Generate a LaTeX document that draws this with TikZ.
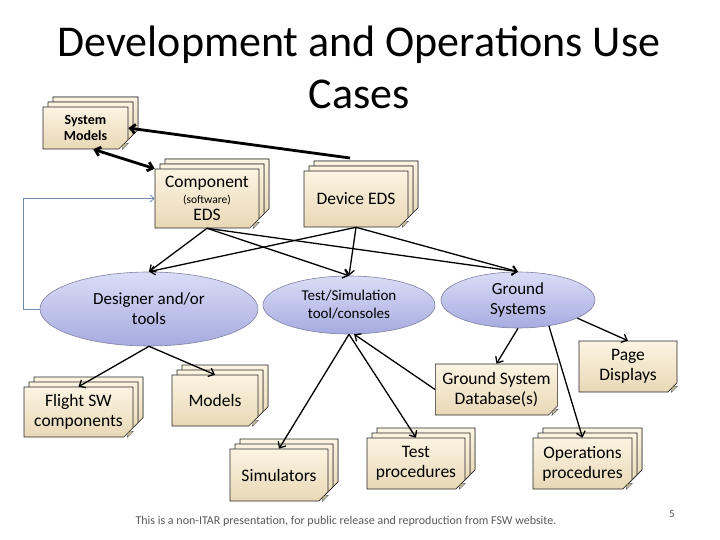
\documentclass[tikz,border=0pt]{standalone}
\usepackage{fontspec}
\setmainfont{Carlito}
\usepackage{tikz}
\usetikzlibrary{positioning,calc}
\usetikzlibrary{arrows.meta,shapes.geometric,shapes.misc,shadows}
\definecolor{NoteTop}{RGB}{252,244,226}
\definecolor{NoteBot}{RGB}{232,216,182}
\definecolor{FoldTan}{RGB}{214,196,158}
\definecolor{EllTop}{RGB}{218,221,246}
\definecolor{EllMid}{RGB}{196,200,239}
\definecolor{EllBot}{RGB}{166,171,224}
\definecolor{EllLine}{RGB}{128,130,160}
\definecolor{FeedBlue}{RGB}{112,140,170}
\definecolor{FootGray}{RGB}{90,90,90}
\tikzset{
  note/.style={chamfered rectangle,chamfered rectangle corners=south east,
    chamfered rectangle xsep=6pt,draw=black!85,line width=0.6pt,
    top color=NoteTop,bottom color=NoteBot,inner sep=1pt,align=center,
    font=\fontsize{17.5}{20}\selectfont},
  layer/.style={draw=black!85,line width=0.6pt,top color=NoteTop,bottom color=NoteBot},
  notestack/.style={note,
    copy shadow={shadow xshift=10pt,shadow yshift=10pt,layer},
    copy shadow={shadow xshift=5pt,shadow yshift=5pt,layer}},
  usecase/.style={ellipse,draw=EllLine,line width=0.6pt,top color=EllTop,
    middle color=EllMid,bottom color=EllBot,inner sep=0pt,align=center,
    font=\fontsize{17}{20}\selectfont},
  foldflap/.style={fill=FoldTan,draw=black!70,line width=0.4pt},
  link/.style={draw=black,line width=1.3pt,-{Straight Barb[length=5pt,width=9pt]}},
  heavy/.style={draw=black,line width=2.8pt},
  feed/.style={draw=FeedBlue,line width=0.8pt,-{Straight Barb[length=4pt,width=7pt]}},
}
% folded corner of a note
\newcommand\notefold[1]{%
  \filldraw[foldflap] ($(#1.east|-#1.south)+(-6pt,0pt)$) -- ++(1pt,5pt)
    -- ($(#1.east|-#1.south)+(0pt,6pt)$) -- cycle;}

\begin{document}
\begin{tikzpicture}[x=1pt,y=-1pt]
\useasboundingbox (0,0) rectangle (720,540);
\fill[white] (0,0) rectangle (720,540);

% title
\node[font=\fontsize{44}{52}\selectfont,align=center] (title) at (359,67)
  {Development and Operations Use\\Cases};

% documents
\node[notestack,minimum width=85pt,minimum height=42pt,
  font=\fontsize{14}{16}\selectfont\bfseries] (sysmod) at (85.5,128) {System\\Models};
\node[notestack,minimum width=104pt,minimum height=59pt] (comp) at (207,198.5)
  {Component\\[-4pt]{\fontsize{11.5}{13}\selectfont(software)}\\[-3pt]EDS};
\node[notestack,minimum width=104pt,minimum height=56pt] (device) at (356,199) {Device EDS};
\node[notestack,minimum width=109pt,minimum height=50pt] (flight) at (78.5,412)
  {Flight SW\\components};
\node[notestack,minimum width=86pt,minimum height=51pt] (models) at (215,400.5) {Models};
\node[notestack,minimum width=98pt,minimum height=52pt] (simul) at (279,475) {Simulators};
\node[notestack,minimum width=98pt,minimum height=51pt] (testproc) at (416,463.5)
  {Test\\procedures};
\node[notestack,minimum width=99pt,minimum height=51pt] (ops) at (582.5,463.5)
  {Operations\\procedures};
\node[note,minimum width=121pt,minimum height=51pt] (gsdb) at (496.5,389.5)
  {Ground System\\Database(s)};
\node[note,minimum width=98pt,minimum height=51pt] (page) at (628,366.5)
  {Page\\Displays};
\foreach \n in {sysmod,comp,device,flight,models,simul,testproc,ops,gsdb,page}
  {\notefold{\n}}

% use cases
\node[usecase,minimum width=218pt,minimum height=74pt] (designer) at (149,309)
  {Designer and/or\\tools};
\node[usecase,minimum width=172pt,minimum height=58pt,
  font=\fontsize{15}{18}\selectfont] (testsim) at (349,305)
  {Test/Simulation\\tool/consoles};
\node[usecase,minimum width=154pt,minimum height=56pt] (ground) at (518,300)
  {Ground\\Systems};

% connectors
\coordinate (devtop) at (350,158);
\draw[heavy,{Straight Barb[length=5pt,width=9pt]}-] (sysmod.east) -- (devtop);
\draw[heavy,{Straight Barb[length=5pt,width=9pt]}-{Straight Barb[length=5pt,width=9pt]}]
  (sysmod.-70) -- (comp.north west);
\draw[feed] (designer.west) -- ++(-16,0) |- (comp.west);
\foreach \t in {designer,testsim,ground}
  {\draw[link] (comp.south) -- (\t.north);
   \draw[link] (device.south) -- (\t.north);}
\draw[link] (designer.south) -- (flight.north);
\draw[link] (designer.south) -- (models.north);
\draw[link] (testsim.south) -- (simul.north);
\draw[link] (testsim.south) -- (testproc.north);
\draw[link] (gsdb.west) -- (testsim.-80);
\draw[link] (ground.south) -- (gsdb.north);
\draw[link] (ground.-17) -- (page.north);
\draw[link] (ground.-40) -- (ops.north);

% footer
\node[font=\fontsize{12}{14}\selectfont,text=FootGray] (foot) at (346,521)
  {This is a non-ITAR presentation, for public release and reproduction from FSW website.};
\node[font=\fontsize{11}{13}\selectfont,text=FootGray] (pnum) at (672,514) {5};
\end{tikzpicture}
\end{document}
